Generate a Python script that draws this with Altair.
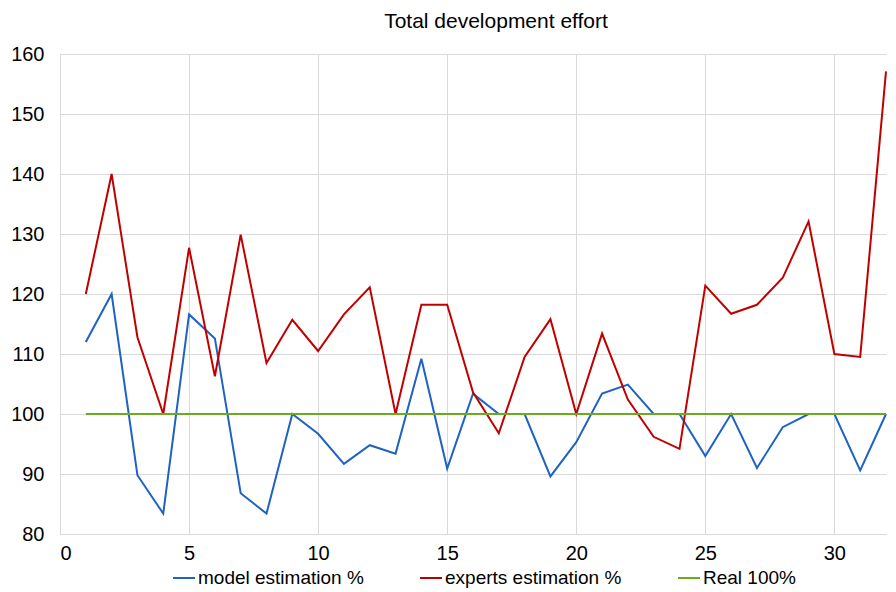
import altair as alt
import pandas as pd

x_vals = list(range(1, 33))
model = [112.0, 120.0, 89.8, 83.4, 116.6, 112.6, 86.8, 83.4, 100.0, 96.7,
         91.7, 94.8, 93.4, 109.2, 90.9, 103.4, 100.0, 100.0, 89.6, 95.3,
         103.4, 104.9, 100.0, 100.0, 93.0, 100.0, 91.0, 97.8, 100.0, 100.0,
         90.6, 100.0]
experts = [120.0, 140.0, 112.8, 100.0, 127.7, 106.3, 129.9, 108.5, 115.7, 110.5,
           116.6, 121.1, 100.0, 118.2, 118.2, 103.6, 96.8, 109.5, 115.8, 100.0,
           113.4, 102.4, 96.2, 94.2, 121.4, 116.7, 118.2, 122.7, 132.1, 110.0,
           109.5, 157.1]
real = [100.0] * 32

series_names = ["model estimation %", "experts estimation %", "Real 100%"]
series_colors = ["#1f63c2", "#c00000", "#6aac1c"]
x_ticks = [0, 5, 10, 15, 20, 25, 30]
y_ticks = [80, 90, 100, 110, 120, 130, 140, 150, 160]

frames = []
for name, vals in zip(series_names, [model, experts, real]):
    frames.append(pd.DataFrame({"x": x_vals, "v": vals, "series": name}))

color_scale = alt.Scale(domain=series_names, range=series_colors)

def layer(df):
    return alt.Chart(df).mark_line(strokeWidth=2).encode(
        x=alt.X("x:Q", scale=alt.Scale(domain=[0, 32], nice=False),
                axis=alt.Axis(values=x_ticks, title=None, grid=True, ticks=False,
                              labelPadding=9, labelFontSize=20,
                              domainColor="#d9d9d9")),
        y=alt.Y("v:Q", scale=alt.Scale(domain=[80, 160], nice=False, zero=False),
                axis=alt.Axis(values=y_ticks, title=None, grid=True, ticks=False,
                              labelPadding=16, labelFontSize=20,
                              domainColor="#d9d9d9")),
        color=alt.Color("series:N", scale=color_scale, sort=series_names,
                        legend=alt.Legend(title=None, orient="none", direction="horizontal",
                                          legendX=112, legendY=512,
                                          symbolType="stroke", symbolSize=484,
                                          symbolStrokeWidth=2, labelFontSize=19,
                                          labelOffset=2, columnPadding=52,
                                          labelLimit=0,
                                          padding=0, labelColor="#000000")),
    )

chart = alt.layer(*[layer(f) for f in frames]).properties(
    width=826,
    height=480,
    autosize=alt.AutoSizeParams(type="none"),
    padding={"left": 52, "top": 46, "right": 2, "bottom": 54},
    title=alt.TitleParams("Total development effort", fontSize=21, fontWeight="normal",
                          color="#000000", anchor="middle", dx=23, offset=12),
).configure(
    font="Liberation Sans",
).configure_axis(
    gridColor="#d9d9d9",
    gridWidth=1,
    labelColor="#000000",
    labelFont="Liberation Sans",
).configure_view(
    stroke=None,
)

chart.save("out.html", embed_options={"renderer": "svg", "actions": False})
